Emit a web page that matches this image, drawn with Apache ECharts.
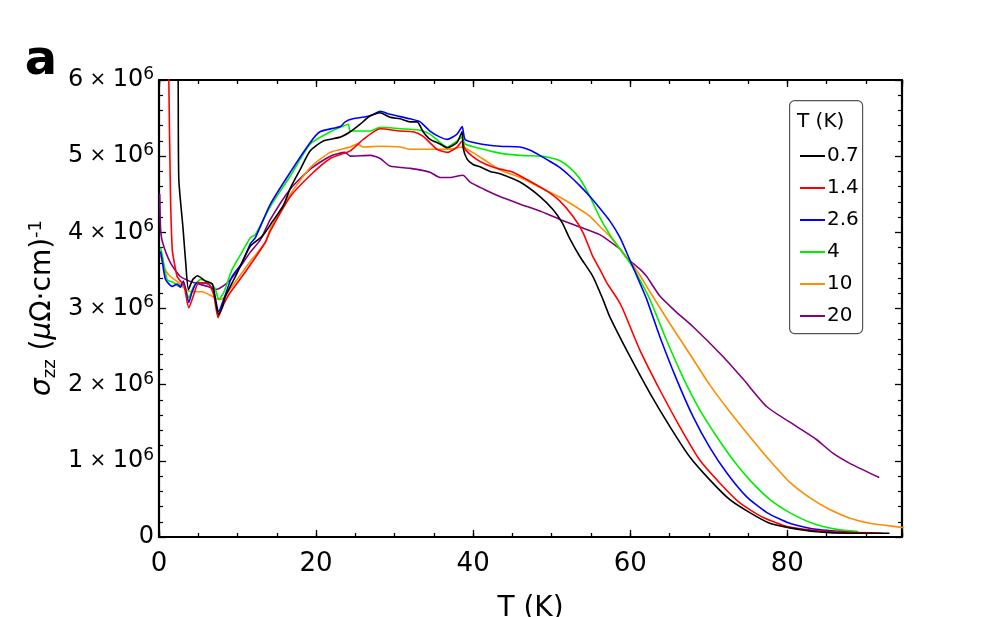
<!DOCTYPE html>
<html>
<head>
<meta charset="utf-8">
<script src="https://cdn.jsdelivr.net/npm/echarts@6/dist/echarts.min.js"></script>
<style>
  html, body { margin: 0; padding: 0; background: #fff; }
  #chart { width: 1000px; height: 617px; }
</style>
</head>
<body>
<div id="chart"></div>
<script>
// sigma_zz in units of 10^6 (uOhm cm)^-1, against T (K)
var legendNames = ['0.7', '1.4', '2.6', '4', '10', '20'];
var lineColors = ['#000000', '#ff0000', '#0000ff', '#00ee00', '#ff8c00', '#800080'];
var xTicks = [0, 20, 40, 60, 80];

var sig07 = [[2.3,7.0],[2.44,6.0],[2.52,4.7],[3.07,4.04],[3.4,3.6],[3.75,3.25],[4.3,3.38],[4.9,3.43],[5.9,3.36],[6.8,3.32],[7.2,3.1],[7.57,2.92],[8.0,3.0],[8.46,3.16],[9.73,3.42],[11.63,3.82],[13.16,3.95],[14.5,4.15],[15.83,4.35],[16.72,4.58],[18.0,4.83],[19.26,5.07],[20.92,5.2],[23.08,5.25],[24.35,5.32],[25.62,5.42],[26.89,5.53],[28.16,5.57],[29.43,5.51],[30.7,5.49],[31.97,5.45],[32.87,5.45],[33.63,5.32],[34.52,5.22],[35.79,5.16],[36.68,5.11],[37.95,5.18],[38.59,5.32],[38.72,5.11],[39.23,4.96],[39.99,4.89],[40.88,4.86],[42.15,4.8],[43.42,4.77],[45.96,4.66],[48.51,4.47],[50.16,4.3],[51.31,4.13],[52.33,3.91],[53.6,3.68],[55.25,3.42],[56.52,3.12],[57.4,2.89],[59.96,2.37],[62.5,1.89],[65.05,1.45],[67.59,1.05],[70.13,0.75],[72.68,0.49],[75.22,0.32],[77.76,0.18],[80.3,0.12],[83.74,0.07],[87.93,0.05],[93.0,0.05]];
var sig14 = [[1.15,7.0],[1.25,6.0],[1.46,4.5],[1.68,3.78],[1.88,3.64],[2.31,3.42],[2.73,3.36],[3.2,3.3],[3.79,3.01],[4.42,3.18],[5.06,3.34],[6.33,3.32],[6.97,3.18],[7.52,2.88],[8.03,3.01],[8.88,3.18],[10.57,3.42],[12.27,3.67],[13.54,3.87],[14.18,4.02],[16.72,4.47],[19.26,4.75],[21.8,4.97],[24.35,5.07],[26.0,5.22],[28.16,5.36],[30.7,5.33],[32.36,5.32],[33.63,5.26],[35.4,5.09],[36.7,5.05],[37.95,5.12],[38.6,5.2],[38.97,5.09],[40.0,4.99],[40.88,4.93],[42.15,4.87],[43.42,4.83],[45.07,4.79],[47.23,4.67],[49.4,4.54],[51.05,4.41],[52.7,4.21],[53.97,4.0],[55.24,3.68],[56.1,3.52],[57.0,3.34],[58.4,3.12],[59.06,2.99],[61.2,2.46],[63.77,1.93],[66.3,1.45],[68.85,1.01],[71.39,0.71],[73.93,0.45],[76.86,0.26],[80.3,0.13],[85.4,0.07],[92.1,0.05]];
var sig26 = [[0.2,3.75],[0.45,3.6],[0.83,3.38],[1.68,3.29],[2.31,3.32],[2.73,3.28],[3.1,3.36],[3.79,3.08],[4.22,3.22],[4.85,3.34],[6.33,3.32],[6.97,3.22],[7.6,2.96],[8.24,3.12],[9.3,3.42],[10.57,3.6],[11.63,3.85],[12.27,3.93],[14.18,4.37],[16.72,4.79],[19.26,5.18],[20.5,5.32],[23.1,5.39],[23.7,5.45],[24.7,5.49],[26.9,5.53],[28.16,5.59],[29.4,5.55],[31.97,5.49],[33.25,5.45],[34.5,5.33],[35.8,5.25],[36.7,5.22],[37.95,5.29],[38.6,5.39],[38.97,5.22],[40.5,5.17],[43.42,5.13],[45.96,5.12],[47.2,5.08],[48.5,5.01],[49.8,4.93],[51.05,4.85],[52.3,4.74],[53.6,4.61],[54.87,4.47],[56.1,4.32],[57.4,4.15],[58.7,3.93],[59.9,3.65],[61.2,3.34],[62.1,3.12],[63.77,2.63],[65.9,2.07],[68.0,1.58],[70.1,1.18],[72.3,0.84],[74.8,0.53],[77.4,0.32],[80.3,0.18],[83.7,0.1],[89.2,0.05]];
var sig4 = [[0.2,3.8],[0.45,3.68],[1.04,3.38],[1.88,3.34],[2.52,3.29],[3.1,3.34],[3.79,3.14],[4.42,3.29],[5.28,3.38],[6.55,3.34],[7.18,3.25],[7.6,3.12],[8.24,3.21],[9.3,3.51],[10.57,3.74],[11.63,3.93],[12.27,3.97],[14.18,4.34],[16.72,4.74],[19.26,5.16],[21.8,5.32],[23.1,5.38],[24.1,5.42],[24.35,5.33],[26.9,5.33],[28.16,5.38],[30.7,5.36],[33.25,5.34],[34.5,5.29],[35.8,5.18],[36.7,5.12],[37.7,5.18],[38.6,5.25],[38.97,5.16],[40.9,5.1],[43.4,5.04],[46.0,5.01],[48.5,5.0],[49.8,4.98],[51.05,4.94],[52.3,4.85],[53.6,4.7],[54.87,4.47],[56.1,4.2],[57.4,3.97],[58.7,3.78],[59.96,3.6],[61.2,3.38],[62.5,3.12],[64.6,2.59],[66.7,2.1],[68.85,1.67],[71.0,1.32],[73.1,1.01],[75.2,0.75],[77.8,0.49],[80.3,0.32],[83.2,0.18],[86.3,0.1],[89.0,0.07]];
var sig10 = [[0.2,3.7],[0.83,3.5],[1.46,3.42],[2.5,3.34],[3.37,3.25],[4.2,3.22],[5.5,3.22],[6.76,3.16],[7.6,3.12],[8.24,3.14],[9.3,3.29],[10.57,3.47],[11.63,3.62],[12.27,3.7],[13.54,3.87],[14.18,4.05],[16.72,4.5],[19.26,4.85],[21.8,5.05],[24.35,5.12],[25.2,5.16],[26.0,5.12],[28.16,5.13],[30.7,5.12],[31.97,5.09],[34.5,5.09],[37.0,5.09],[38.7,5.12],[39.6,5.07],[41.3,4.96],[43.4,4.82],[46.0,4.72],[48.5,4.59],[51.05,4.46],[53.6,4.3],[54.87,4.21],[56.1,4.08],[57.4,3.95],[58.7,3.78],[59.96,3.62],[61.2,3.44],[62.5,3.22],[65.05,2.8],[67.6,2.4],[70.1,2.0],[72.7,1.64],[75.2,1.32],[77.8,1.0],[80.3,0.72],[82.8,0.52],[85.4,0.36],[87.9,0.25],[90.5,0.18],[94.3,0.13],[96.0,0.11]];
var sig20 = [[0.1,4.5],[0.2,4.05],[0.45,3.87],[1.46,3.6],[2.73,3.42],[4.4,3.34],[6.2,3.29],[7.2,3.25],[8.1,3.29],[9.1,3.38],[10.7,3.6],[11.63,3.74],[12.9,3.9],[14.18,4.17],[16.72,4.57],[19.26,4.83],[21.8,5.0],[23.7,5.05],[24.35,5.0],[26.9,5.01],[28.16,4.97],[29.4,4.87],[32.0,4.84],[34.5,4.79],[35.8,4.72],[37.06,4.72],[38.7,4.75],[39.6,4.66],[41.3,4.57],[43.4,4.47],[46.0,4.37],[48.5,4.28],[51.05,4.17],[53.6,4.07],[56.1,3.97],[58.7,3.78],[59.6,3.66],[61.2,3.52],[62.1,3.42],[63.8,3.16],[65.9,2.95],[68.0,2.76],[71.8,2.37],[74.4,2.07],[77.4,1.71],[81.2,1.45],[83.7,1.28],[85.8,1.1],[87.9,0.97],[91.7,0.78]];

var allData = [sig07, sig14, sig26, sig4, sig10, sig20];
var FONT = 'DejaVu Sans';

var myChart = echarts.init(document.getElementById('chart'));

var gridRect = { left: 159, right: 98, top: 80, bottom: 80, outerBoundsMode: 'none', containLabel: false };

// frame axes: major ticks on grid 0, minor ticks (every 5 K) on grid 1
function frameX(pos, withLabel, gridIndex, interval, tickLen) {
    return {
        type: 'value', gridIndex: gridIndex, position: pos,
        min: 0, max: 94.6, interval: interval,
        axisLine: { show: gridIndex === 0, onZero: false, lineStyle: { color: '#000', width: 2.2 } },
        axisTick: { show: true, inside: true, length: tickLen, lineStyle: { color: '#000', width: 1.3 } },
        splitLine: { show: false },
        axisLabel: {
            show: withLabel, margin: 14, color: '#000', fontSize: 26, fontFamily: FONT,
            formatter: function (v) { return xTicks.indexOf(v) >= 0 ? String(v) : ''; }
        },
        name: withLabel ? 'T (K)' : '',
        nameLocation: 'middle', nameGap: 58,
        nameTextStyle: { color: '#000', fontSize: 28, fontFamily: FONT }
    };
}

function frameY(pos, withLabel) {
    return {
        type: 'value', gridIndex: 0, position: pos,
        min: 0, max: 6, interval: 1,
        axisLine: { show: true, onZero: false, lineStyle: { color: '#000', width: 2.2 } },
        axisTick: { show: true, inside: true, length: 7, lineStyle: { color: '#000', width: 1.3 } },
        minorTick: { show: true, splitNumber: 5, length: 4, lineStyle: { color: '#000', width: 1.2 } },
        splitLine: { show: false },
        axisLabel: {
            show: withLabel, margin: 5, color: '#000',
            formatter: function (v) {
                if (v === 0) return '{n|0}';
                return '{n|' + v + '}{x| × }{n|10}{s|6}';
            },
            rich: {
                n: { fontSize: 24, fontFamily: FONT, color: '#000', lineHeight: 28 },
                x: { fontSize: 20, fontFamily: FONT, color: '#000', lineHeight: 28 },
                s: { fontSize: 17, fontFamily: FONT, color: '#000', lineHeight: 17, verticalAlign: 'top' }
            }
        }
    };
}

var series = allData.map(function (d, i) {
    return {
        name: legendNames[i],
        type: 'line',
        xAxisIndex: 0, yAxisIndex: 0,
        data: d,
        color: lineColors[i],
        showSymbol: false,
        smooth: 0.2,
        lineStyle: { width: 1.6, color: lineColors[i] },
        clip: true,
        z: 10 - i
    };
});

var option = {
    animation: false,
    backgroundColor: '#fff',
    grid: [
        Object.assign({}, gridRect),
        Object.assign({}, gridRect)
    ],
    xAxis: [
        frameX('bottom', true, 0, 20, 7),
        frameX('top', false, 0, 20, 7),
        frameX('bottom', false, 1, 5, 4),
        frameX('top', false, 1, 5, 4)
    ],
    yAxis: [
        frameY('left', true),
        frameY('right', false),
        { type: 'value', gridIndex: 1, min: 0, max: 6, show: false }
    ],
    legend: {
        data: legendNames,
        orient: 'vertical',
        left: 795, top: 141,
        itemWidth: 25, itemHeight: 2,
        icon: 'rect',
        itemGap: 12,
        textStyle: { color: '#000', fontSize: 20, fontFamily: FONT, lineHeight: 20, padding: [0, 0, 0, -3] }
    },
    graphic: [
        {
            type: 'rect', left: 789, top: 100, z: 0,
            shape: { width: 73, height: 233, r: 5 },
            style: { fill: '#fff', stroke: '#555', lineWidth: 1.2 }
        },
        {
            type: 'text', left: 797, top: 112, z: 5,
            style: { text: 'T (K)', fill: '#000', fontSize: 20, fontFamily: FONT }
        },
        {
            type: 'text', x: 41, y: 62, z: 5,
            style: { text: 'a', fill: '#000', fontSize: 48, fontWeight: 'bold', fontFamily: FONT,
                     align: 'center', verticalAlign: 'middle' }
        },
        {
            type: 'text', x: 43, y: 308, rotation: Math.PI / 2, z: 5,
            style: {
                text: '{i|σ}{b|zz}{n| (}{i|μ}{n|Ω·cm)}{p|-1}',
                align: 'center', verticalAlign: 'middle',
                rich: {
                    i: { fontSize: 28, fontFamily: FONT, fontStyle: 'italic', fill: '#000', lineHeight: 32 },
                    n: { fontSize: 28, fontFamily: FONT, fill: '#000', lineHeight: 32 },
                    b: { fontSize: 18, fontFamily: FONT, fill: '#000', lineHeight: 18, verticalAlign: 'bottom' },
                    p: { fontSize: 18, fontFamily: FONT, fill: '#000', lineHeight: 18, verticalAlign: 'top' }
                }
            }
        }
    ],
    series: series
};

myChart.setOption(option);
</script>
</body>
</html>
